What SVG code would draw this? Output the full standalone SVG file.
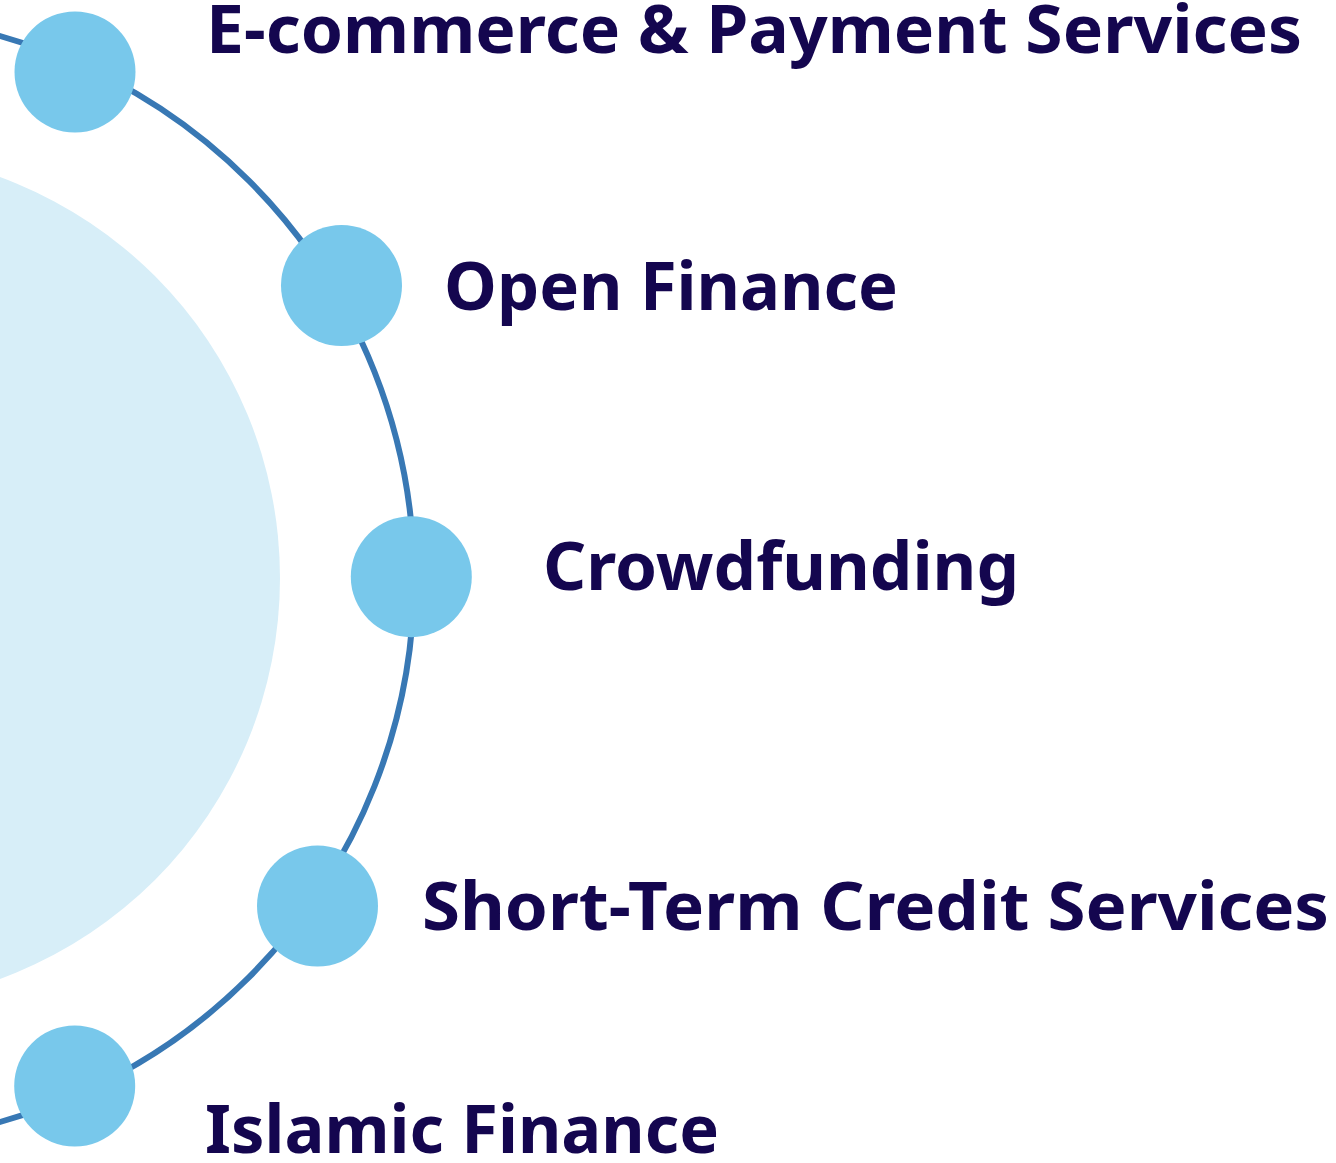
<svg xmlns="http://www.w3.org/2000/svg" width="1336" height="1163" viewBox="0 0 1336 1163">
  <style>
    .node { fill: #78C8EB; }
    .lbl { font-family: "Noto Sans", "Open Sans", "Liberation Sans", sans-serif; font-weight: 700; font-size: 67px; fill: #14064F; }
    .ring { fill: none; stroke: #3878B4; stroke-width: 6; }
  </style>
  <rect width="1336" height="1163" fill="#FFFFFF"/>
  <g id="core">
    <circle cx="-147" cy="578" r="427" fill="#D7EEF8"/>
  </g>
  <g id="connectors">
    <circle class="ring" cx="-149" cy="579" r="563"/>
  </g>
  <g id="node-ecommerce">
    <circle class="node" cx="75" cy="72" r="60.5"/>
    <text class="lbl" x="206" y="53" textLength="1096" lengthAdjust="spacingAndGlyphs">E-commerce &amp; Payment Services</text>
  </g>
  <g id="node-open-finance">
    <circle class="node" cx="341.5" cy="285.5" r="60.5"/>
    <text class="lbl" x="444" y="310" textLength="454" lengthAdjust="spacingAndGlyphs">Open Finance</text>
  </g>
  <g id="node-crowdfunding">
    <circle class="node" cx="411.3" cy="576.7" r="60.5"/>
    <text class="lbl" x="543" y="590" textLength="476" lengthAdjust="spacingAndGlyphs">Crowdfunding</text>
  </g>
  <g id="node-short-term">
    <circle class="node" cx="317.5" cy="906" r="60.5"/>
    <text class="lbl" x="422" y="930" textLength="907" lengthAdjust="spacingAndGlyphs">Short-Term Credit Services</text>
  </g>
  <g id="node-islamic">
    <circle class="node" cx="74.7" cy="1086" r="60.5"/>
    <text class="lbl" x="205" y="1153" textLength="514" lengthAdjust="spacingAndGlyphs">Islamic Finance</text>
  </g>
</svg>
